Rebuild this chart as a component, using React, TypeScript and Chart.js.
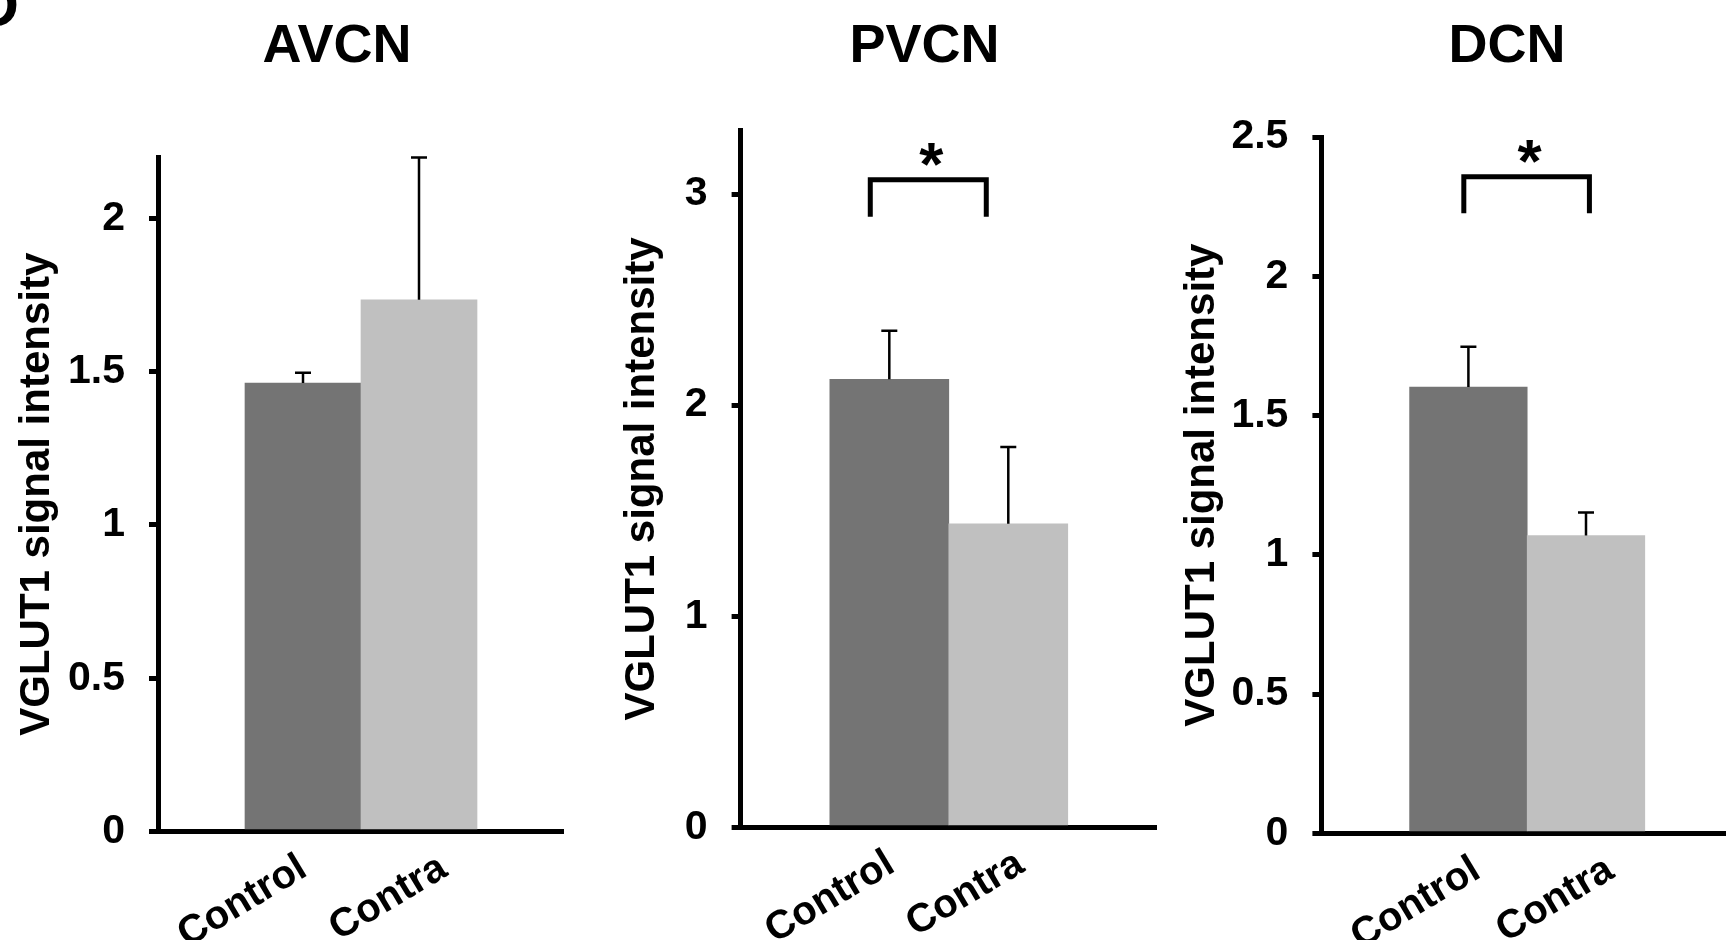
import React, { useEffect, useRef } from 'react';
import { Chart, registerables } from 'chart.js';

Chart.register(...registerables);

// ---------- data ----------
const categories = ['Control', 'Contra'];
const categoryPositions = [1.25, 2.25];
const barColors = ['#747474', '#c0c0c0'];

const avcnMeans = [1.463, 1.734];
const avcnErrors = [0.033, 0.464];
const pvcnMeans = [2.122, 1.438];
const pvcnErrors = [0.23, 0.364];
const dcnMeans = [1.602, 1.069];
const dcnErrors = [0.145, 0.083];

// where each panel's category label is anchored on the x axis (axis units)
const avcnLabelPositions = [1.254, 2.462];
const pvcnLabelPositions = [1.264, 2.353];
const dcnLabelPositions = [1.321, 2.458];

const panelTitles = ['AVCN', 'PVCN', 'DCN'];
const yAxisTitle = 'VGLUT1 signal intensity';
const yMaxes = [2.2, 3.3, 2.5];
const yStepSizes = [0.5, 1, 0.5];

// significance brackets: [xStart, xEnd, yTop, yBottom] in data units
const pvcnBracket = [1.09, 2.065, 3.068, 2.892];
const dcnBracket = [1.211, 2.279, 2.357, 2.226];
const sigLabel = '*';
const panelLetter = 'D';

const FONT = "'Liberation Sans', Arial, Helvetica, sans-serif";

// ---------- plugins ----------
const errorBarPlugin = {
  id: 'errorBars',
  afterDatasetsDraw(chart: any, _args: any, opts: any) {
    const { ctx } = chart;
    const meta = chart.getDatasetMeta(0);
    const y = chart.scales.y;
    ctx.save();
    ctx.strokeStyle = '#000';
    ctx.lineWidth = 2.5;
    meta.data.forEach((bar: any, i: number) => {
      const mean = opts.means[i];
      const err = opts.errors[i];
      const yTop = y.getPixelForValue(mean + err);
      const yBase = y.getPixelForValue(mean);
      ctx.beginPath();
      ctx.moveTo(bar.x, yBase);
      ctx.lineTo(bar.x, yTop);
      ctx.moveTo(bar.x - 8, yTop);
      ctx.lineTo(bar.x + 8, yTop);
      ctx.stroke();
    });
    ctx.restore();
  },
};

const bracketPlugin = {
  id: 'sigBracket',
  afterDatasetsDraw(chart: any, _args: any, opts: any) {
    if (!opts || !opts.bracket) return;
    const { ctx } = chart;
    const x = chart.scales.x;
    const y = chart.scales.y;
    const [x1v, x2v, ytv, ybv] = opts.bracket;
    const x1 = x.getPixelForValue(x1v);
    const x2 = x.getPixelForValue(x2v);
    const yt = y.getPixelForValue(ytv);
    const yb = y.getPixelForValue(ybv);
    ctx.save();
    ctx.strokeStyle = '#000';
    ctx.lineWidth = 5;
    ctx.lineJoin = 'miter';
    ctx.lineCap = 'butt';
    ctx.beginPath();
    ctx.moveTo(x1, yb);
    ctx.lineTo(x1, yt);
    ctx.lineTo(x2, yt);
    ctx.lineTo(x2, yb);
    ctx.stroke();
    ctx.fillStyle = '#000';
    ctx.font = `bold 62px ${FONT}`;
    ctx.textAlign = 'center';
    ctx.textBaseline = 'alphabetic';
    ctx.fillText(opts.label, (x1 + x2) / 2 + 3, yt + 5);
    ctx.restore();
  },
};

const panelTitlePlugin = {
  id: 'panelTitle',
  afterDraw(chart: any, _args: any, opts: any) {
    const { ctx, chartArea } = chart;
    ctx.save();
    ctx.fillStyle = '#000';
    ctx.font = `bold 54px ${FONT}`;
    ctx.textAlign = 'center';
    ctx.textBaseline = 'alphabetic';
    ctx.fillText(opts.text, chartArea.left + opts.offset, 62);
    if (opts.letter) {
      ctx.font = `bold 62px ${FONT}`;
      ctx.textAlign = 'right';
      ctx.fillText(opts.letter, 19, 26);
    }
    ctx.restore();
  },
};

// ---------- layout (page geometry) ----------
const panels = [
  { left: 0, width: 564, yAxisWidth: 158, top: 157, xAxisHeight: 108.5, titleOffset: 179, means: avcnMeans, errors: avcnErrors, labelPositions: avcnLabelPositions, bracket: null as number[] | null, idx: 0 },
  { left: 605, width: 552, yAxisWidth: 135.6, top: 130.7, xAxisHeight: 112.7, titleOffset: 184, means: pvcnMeans, errors: pvcnErrors, labelPositions: pvcnLabelPositions, bracket: pvcnBracket, idx: 1 },
  { left: 1165, width: 568, yAxisWidth: 156.4, top: 137, xAxisHeight: 106.7, titleOffset: 185.5, means: dcnMeans, errors: dcnErrors, labelPositions: dcnLabelPositions, bracket: dcnBracket, idx: 2 },
];

function Panel({ p }: { p: typeof panels[number] }) {
  const ref = useRef<HTMLCanvasElement>(null);
  useEffect(() => {
    const chart = new Chart(ref.current as HTMLCanvasElement, {
      type: 'bar',
      data: {
        datasets: [
          {
            data: p.means.map((m, i) => ({ x: categoryPositions[i], y: m })),
            backgroundColor: barColors,
            borderWidth: 0,
            barPercentage: 1,
            categoryPercentage: 1,
          },
        ],
      },
      options: {
        responsive: false,
        animation: false,
        events: [],
        layout: { padding: { left: 0, right: 0, top: p.top, bottom: 0 } },
        plugins: {
          legend: { display: false },
          tooltip: { enabled: false },
          title: { display: false },
          errorBars: { means: p.means, errors: p.errors },
          sigBracket: { bracket: p.bracket, label: sigLabel },
          panelTitle: { text: panelTitles[p.idx], offset: p.titleOffset, letter: p.idx === 0 ? panelLetter : null },
        } as any,
        scales: {
          x: {
            type: 'linear',
            min: 0,
            max: 3.5,
            offset: false,
            grid: { display: false },
            border: { display: true, color: '#000', width: 5 },
            afterBuildTicks: (scale: any) => {
              scale.ticks = p.labelPositions.map((v) => ({ value: v }));
            },
            afterFit: (scale: any) => {
              scale.height = p.xAxisHeight;
            },
            ticks: {
              autoSkip: false,
              minRotation: 31,
              maxRotation: 31,
              padding: 5,
              color: '#000',
              font: { family: FONT, size: 40, weight: 'bold' },
              callback: (_v: any, i: number) => categories[i],
            },
          },
          y: {
            type: 'linear',
            min: 0,
            max: yMaxes[p.idx],
            grid: {
              display: true,
              drawOnChartArea: false,
              drawTicks: true,
              tickLength: 9,
              tickWidth: 5,
              lineWidth: 5,
              tickColor: '#000',
              color: '#000',
            },
            border: { display: true, color: '#000', width: 5 },
            afterFit: (scale: any) => {
              scale.width = p.yAxisWidth;
            },
            ticks: {
              stepSize: yStepSizes[p.idx],
              includeBounds: false,
              padding: 24,
              color: '#000',
              font: { family: FONT, size: 41, weight: 'bold' },
              callback: (v: any) => String(Math.round(Number(v) * 100) / 100),
            },
            title: {
              display: true,
              text: yAxisTitle,
              color: '#000',
              padding: { top: 12, bottom: 0 },
              font: { family: FONT, size: 42, weight: 'bold' },
            },
          },
        } as any,
      },
      plugins: [errorBarPlugin, bracketPlugin, panelTitlePlugin],
    } as any);
    return () => chart.destroy();
  }, []);
  return (
    <canvas
      ref={ref}
      width={p.width}
      height={940}
      style={{ position: 'absolute', left: p.left, top: 0, width: p.width, height: 940 }}
    />
  );
}

export default function App() {
  return (
    <div
      style={{
        position: 'fixed',
        left: 0,
        top: 0,
        width: 1726,
        height: 940,
        overflow: 'hidden',
        background: '#fff',
      }}
    >
      {panels.map((p) => (
        <Panel key={p.idx} p={p} />
      ))}
    </div>
  );
}
